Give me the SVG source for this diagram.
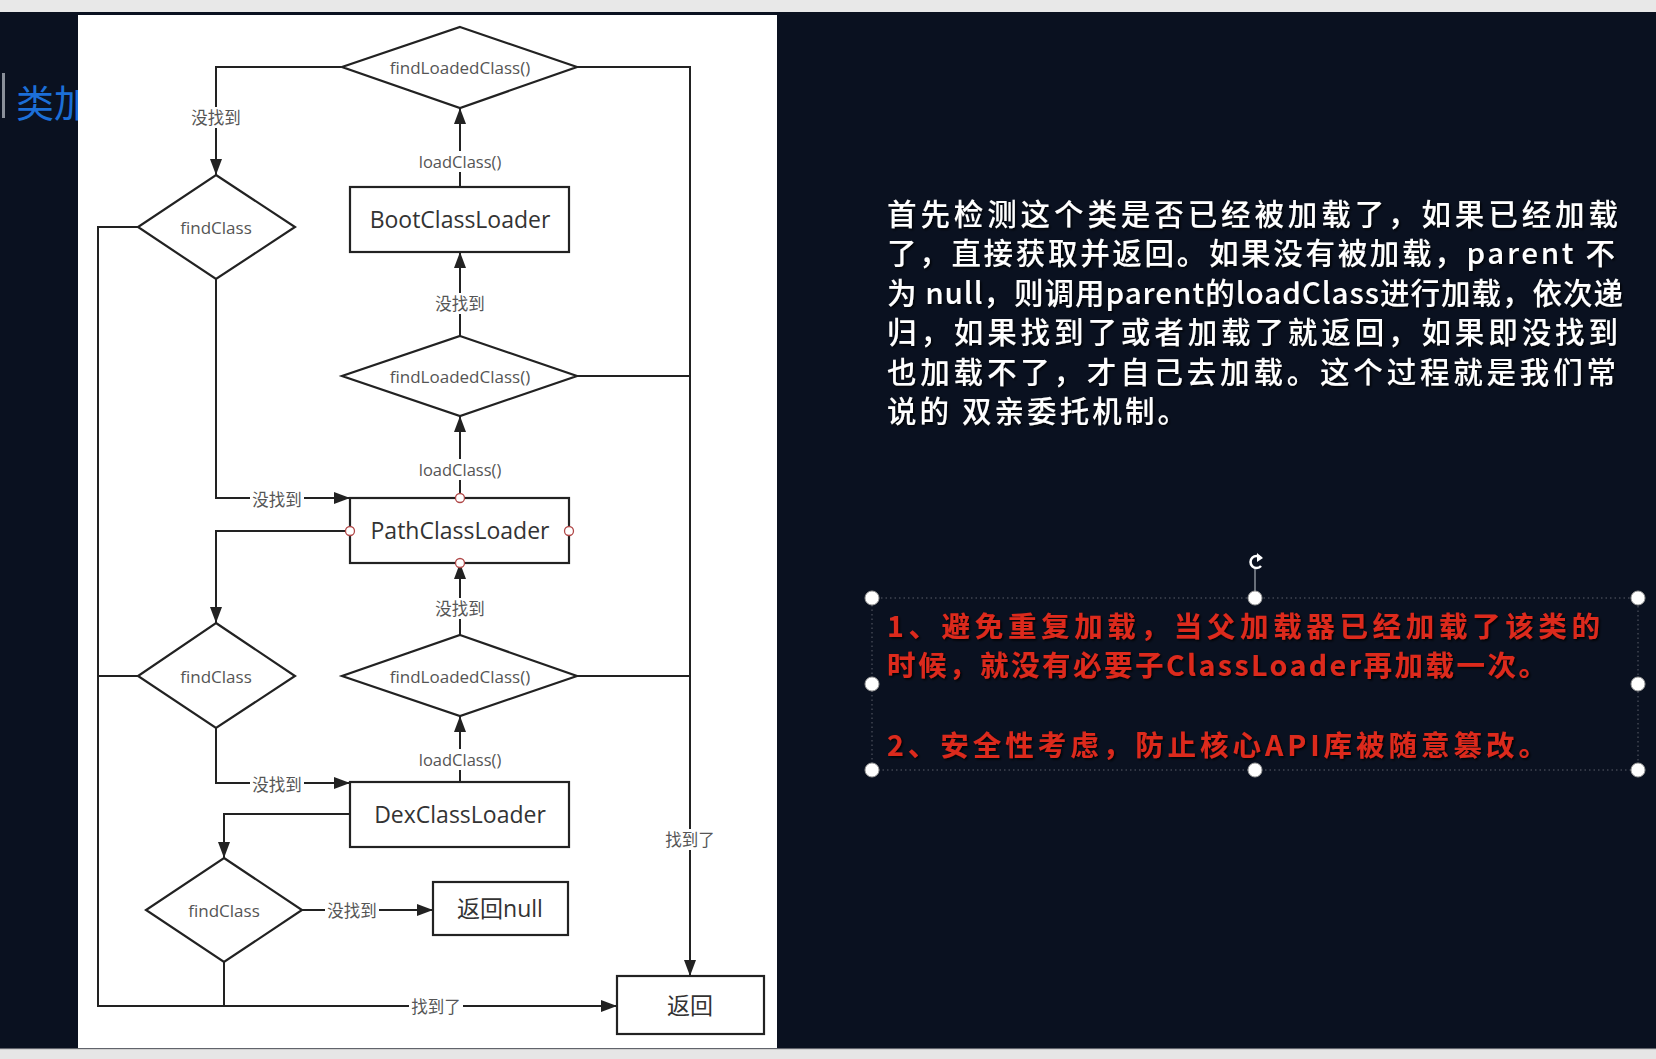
<svg xmlns="http://www.w3.org/2000/svg" width="1656" height="1059" viewBox="0 0 1656 1059">
  <style>
    .shape { fill: #ffffff; stroke: #222222; stroke-width: 2.2; }
    .wire { fill: none; stroke: #222222; stroke-width: 2; }
    .arrow { marker-end: url(#head); }
    .lblbg { fill: #ffffff; }
    .lbl { font-family: "Open Sans", "Noto Sans CJK SC", sans-serif; font-size: 16.5px; fill: #555555; text-anchor: middle; dominant-baseline: central; }
    .cond { font-family: "Open Sans", "Noto Sans CJK SC", sans-serif; font-size: 17px; fill: #555555; text-anchor: middle; dominant-baseline: central; }
    .box { font-family: "Open Sans", "Noto Sans CJK SC", sans-serif; font-size: 23px; fill: #333333; text-anchor: middle; dominant-baseline: central; }
    .port { fill: #ffffff; stroke: #b04848; stroke-width: 1.3; }
    .note { font-family: "Noto Sans CJK SC", sans-serif; font-size: 29.5px; font-weight: 500; fill: #ffffff; filter: url(#shade); }
    .warn { font-family: "Noto Sans CJK SC", sans-serif; font-size: 28.5px; font-weight: bold; fill: #dc2a1e; filter: url(#shade); }
    .handle { fill: #ffffff; stroke: #9a9a9a; stroke-width: 1; }
  </style>
  <defs>
    <marker id="head" markerUnits="userSpaceOnUse" markerWidth="17" markerHeight="12" refX="16" refY="6" orient="auto">
      <path d="M0,0 L16,6 L0,12 z" fill="#222222"/>
    </marker>
    <filter id="shade" x="-5%" y="-30%" width="110%" height="160%">
      <feDropShadow dx="1.5" dy="1.5" stdDeviation="0.8" flood-color="#000000" flood-opacity="0.9"/>
    </filter>
  </defs>

  <!-- slide background and window chrome -->
  <rect x="0" y="0" width="1656" height="1059" fill="#0a1120"/>
  <rect x="0" y="0" width="1656" height="12" fill="#e8e8e8"/>
  <rect x="0" y="1049" width="1656" height="10" fill="#e6e6e6"/>
  <line x1="0" y1="1049" x2="1656" y2="1049" stroke="#b8b8b8" stroke-width="1"/>

  <!-- slide title, partly hidden under the flowchart panel -->
  <rect x="2" y="73" width="3" height="45" fill="#8a909a"/>
  <text x="16" y="117" font-family="Noto Sans CJK SC, sans-serif" font-size="38" fill="#1c6fd8">类加</text>

  <!-- flowchart panel -->
  <rect x="78" y="15" width="699" height="1033" fill="#ffffff"/>

  <!-- connectors -->
  <g id="connectors">
    <path class="wire arrow" d="M341.5,67 H216 V175"/>
    <path class="wire arrow" d="M577,67 H690 V976"/>
    <path class="wire" d="M577,376 H690"/>
    <path class="wire" d="M577,676 H690"/>
    <path class="wire arrow" d="M460,187 V108"/>
    <path class="wire arrow" d="M460,336 V252"/>
    <path class="wire arrow" d="M460,498 V416"/>
    <path class="wire arrow" d="M460,635 V563"/>
    <path class="wire arrow" d="M460,782 V716"/>
    <path class="wire arrow" d="M138,227 H98 V1006 H617"/>
    <path class="wire arrow" d="M216,279 V498 H350"/>
    <path class="wire arrow" d="M350,531 H216 V623"/>
    <path class="wire" d="M138,676 H98"/>
    <path class="wire arrow" d="M216,728 V783 H350"/>
    <path class="wire arrow" d="M350,814 H224 V858"/>
    <path class="wire arrow" d="M302,910 H433"/>
    <path class="wire" d="M224,962 V1006"/>

    <!-- connector labels -->
    <rect class="lblbg" x="189" y="107" width="54" height="21"/>
    <text class="lbl" x="216" y="117">没找到</text>
    <rect class="lblbg" x="416" y="151" width="88" height="21"/>
    <text class="lbl" x="460" y="161">loadClass()</text>
    <rect class="lblbg" x="433" y="293" width="54" height="21"/>
    <text class="lbl" x="460" y="303">没找到</text>
    <rect class="lblbg" x="416" y="459" width="88" height="21"/>
    <text class="lbl" x="460" y="469">loadClass()</text>
    <rect class="lblbg" x="433" y="598" width="54" height="21"/>
    <text class="lbl" x="460" y="608">没找到</text>
    <rect class="lblbg" x="416" y="749" width="88" height="21"/>
    <text class="lbl" x="460" y="759">loadClass()</text>
    <rect class="lblbg" x="250" y="489" width="54" height="21"/>
    <text class="lbl" x="277" y="499">没找到</text>
    <rect class="lblbg" x="250" y="774" width="54" height="21"/>
    <text class="lbl" x="277" y="784">没找到</text>
    <rect class="lblbg" x="325" y="900" width="54" height="21"/>
    <text class="lbl" x="352" y="910">没找到</text>
    <rect class="lblbg" x="409" y="996" width="54" height="21"/>
    <text class="lbl" x="436" y="1006">找到了</text>
    <rect class="lblbg" x="663" y="829" width="54" height="21"/>
    <text class="lbl" x="690" y="839">找到了</text>
  </g>

  <!-- nodes -->
  <g id="find-loaded-boot">
    <polygon class="shape" points="460,27 577,67 460,108 342,67"/>
    <text class="cond" x="460" y="67">findLoadedClass()</text>
  </g>
  <g id="boot-loader">
    <rect class="shape" x="350" y="187" width="219" height="65"/>
    <text class="box" x="460" y="219">BootClassLoader</text>
  </g>
  <g id="find-loaded-path">
    <polygon class="shape" points="460,336 577,376 460,416 342,376"/>
    <text class="cond" x="460" y="376">findLoadedClass()</text>
  </g>
  <g id="path-loader">
    <rect class="shape" x="350" y="498" width="219" height="65"/>
    <text class="box" x="460" y="530">PathClassLoader</text>
    <circle class="port" cx="460" cy="498" r="4.5"/>
    <circle class="port" cx="350" cy="531" r="4.5"/>
    <circle class="port" cx="569" cy="531" r="4.5"/>
    <circle class="port" cx="460" cy="563" r="4.5"/>
  </g>
  <g id="find-loaded-dex">
    <polygon class="shape" points="460,635 577,676 460,716 342,676"/>
    <text class="cond" x="460" y="676">findLoadedClass()</text>
  </g>
  <g id="dex-loader">
    <rect class="shape" x="350" y="782" width="219" height="65"/>
    <text class="box" x="460" y="814">DexClassLoader</text>
  </g>
  <g id="find-class-boot">
    <polygon class="shape" points="216,175 295,227 216,279 138,227"/>
    <text class="cond" x="216" y="227">findClass</text>
  </g>
  <g id="find-class-path">
    <polygon class="shape" points="216,623 295,676 216,728 138,676"/>
    <text class="cond" x="216" y="676">findClass</text>
  </g>
  <g id="find-class-dex">
    <polygon class="shape" points="224,858 302,910 224,962 146,910"/>
    <text class="cond" x="224" y="910">findClass</text>
  </g>
  <g id="return-null">
    <rect class="shape" x="433" y="882" width="135" height="53"/>
    <text class="box" x="500" y="908">返回null</text>
  </g>
  <g id="return">
    <rect class="shape" x="617" y="976" width="147" height="58"/>
    <text class="box" x="690" y="1005">返回</text>
  </g>

  <!-- explanation paragraph -->
  <g id="explanation">
    <text class="note" x="887" y="225" textLength="731" lengthAdjust="spacing">首先检测这个类是否已经被加载了，如果已经加载</text>
    <text class="note" x="887" y="264" textLength="728" lengthAdjust="spacing">了，直接获取并返回。如果没有被加载，parent 不</text>
    <text class="note" x="887" y="304" textLength="736" lengthAdjust="spacing">为 null，则调用parent的loadClass进行加载，依次递</text>
    <text class="note" x="887" y="343" textLength="731" lengthAdjust="spacing">归，如果找到了或者加载了就返回，如果即没找到</text>
    <text class="note" x="887" y="383" textLength="729" lengthAdjust="spacing">也加载不了，才自己去加载。这个过程就是我们常</text>
    <text class="note" x="887" y="422" textLength="300" lengthAdjust="spacing">说的 双亲委托机制。</text>
  </g>

  <!-- selected text box with the two reasons -->
  <g id="reasons">
    <rect x="872" y="598" width="766" height="172" fill="none" stroke="#5a5f68" stroke-width="1" stroke-dasharray="1.5 3"/>
    <line x1="1255" y1="568" x2="1255" y2="592" stroke="#8a8f98" stroke-width="1.5"/>
    <path d="M1261,558 A6,6 0 1 0 1261,566" fill="none" stroke="#ffffff" stroke-width="2.6"/>
    <path d="M1257,553 L1263,558 L1257,562 z" fill="#ffffff"/>
    <text class="warn" x="887" y="637" textLength="713" lengthAdjust="spacing">1、避免重复加载，当父加载器已经加载了该类的</text>
    <text class="warn" x="887" y="676" textLength="660" lengthAdjust="spacing">时候，就没有必要子ClassLoader再加载一次。</text>
    <text class="warn" x="887" y="756" textLength="660" lengthAdjust="spacing">2、安全性考虑，防止核心API库被随意篡改。</text>
    <circle class="handle" cx="872" cy="598" r="7"/>
    <circle class="handle" cx="1255" cy="598" r="7"/>
    <circle class="handle" cx="1638" cy="598" r="7"/>
    <circle class="handle" cx="872" cy="684" r="7"/>
    <circle class="handle" cx="1638" cy="684" r="7"/>
    <circle class="handle" cx="872" cy="770" r="7"/>
    <circle class="handle" cx="1255" cy="770" r="7"/>
    <circle class="handle" cx="1638" cy="770" r="7"/>
  </g>
</svg>
